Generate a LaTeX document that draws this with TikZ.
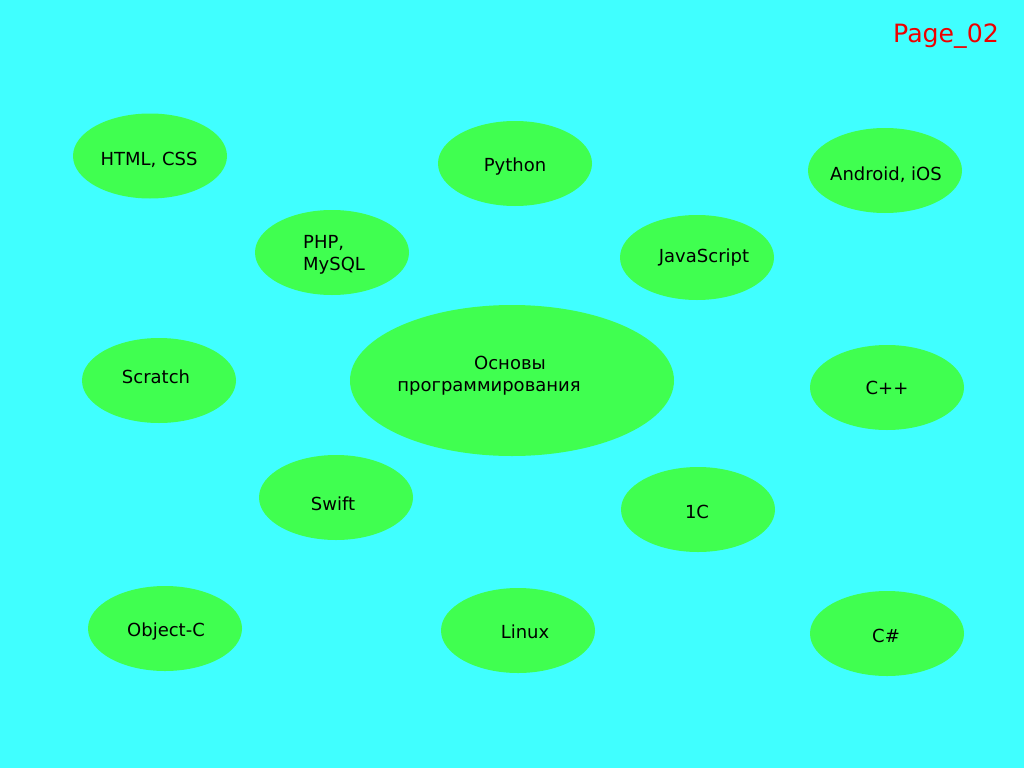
\documentclass[tikz,border=0pt]{standalone}
\usepackage{fontspec}
\setmainfont{DejaVu Sans}
\usetikzlibrary{shapes.geometric}
\definecolor{bgcyan}{HTML}{40FFFF}
\definecolor{blobgreen}{HTML}{40FF50}
\definecolor{pagered}{HTML}{EE0000}
\tikzset{
  blob/.style={ellipse, fill=blobgreen, draw=none, minimum width=154pt, minimum height=85pt, inner sep=0pt},
  bigblob/.style={ellipse, fill=blobgreen, draw=none, minimum width=324pt, minimum height=151pt, inner sep=0pt},
  lbl/.style={font=\fontsize{18}{22}\selectfont, text=black, inner sep=0pt, align=center},
  lbll/.style={font=\fontsize{18}{22}\selectfont, text=black, inner sep=0pt, align=left, anchor=west}
}
\begin{document}
\begin{tikzpicture}[x=1pt,y=-1pt]
\fill[bgcyan] (0,0) rectangle (1024,768);
\useasboundingbox (0,0) rectangle (1024,768);
\node[font=\fontsize{25.2}{28}\selectfont, text=pagered, inner sep=0pt] (page) at (946,36) {Page\_02};

\node[blob] (html) at (150,156) {};
\node[lbl] (htmlt) at (149,160) {HTML, CSS};
\node[blob] (py) at (515,163.5) {};
\node[lbl] (pyt) at (515,167) {Python};
\node[blob] (and) at (885,170.5) {};
\node[lbl] (andt) at (886,175) {Android, iOS};
\node[blob] (php) at (332,252.5) {};
\node[lbll] (phpt) at (303,255) {PHP,\\MySQL};
\node[blob] (js) at (697,257.5) {};
\node[lbl] (jst) at (704,258) {JavaScript};
\node[bigblob] (main) at (512,380.5) {};
\node[lbl] (maint) at (489,376) {\hspace*{42pt}Основы\\программирования};
\node[blob] (scr) at (159,380.5) {};
\node[lbl] (scrt) at (156,377) {Scratch};
\node[blob] (cpp) at (887,387.5) {};
\node[lbl] (cppt) at (887,388) {C++};
\node[blob] (sw) at (336,497.5) {};
\node[lbl] (swt) at (333,504) {Swift};
\node[blob] (onec) at (698,509.5) {};
\node[lbl] (onect) at (697,512) {1C};
\node[blob] (objc) at (165,628.5) {};
\node[lbl] (objct) at (166,632) {Object-C};
\node[blob] (lin) at (518,630.5) {};
\node[lbl] (lint) at (525,632) {Linux};
\node[blob] (cs) at (887,633.5) {};
\node[lbl] (cst) at (886,636) {C\#};
\end{tikzpicture}
\end{document}
